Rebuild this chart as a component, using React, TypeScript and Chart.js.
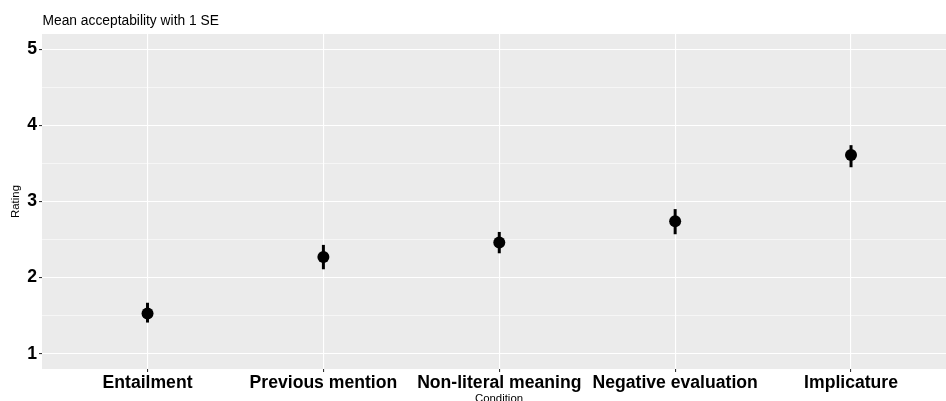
import React, { useEffect, useRef } from "react";
import { Chart, registerables } from "chart.js";

Chart.register(...registerables);

const categories = [
  "Entailment",
  "Previous mention",
  "Non-literal meaning",
  "Negative evaluation",
  "Implicature",
];
const means = [1.53, 2.27, 2.46, 2.74, 3.61];
const lower = [1.41, 2.11, 2.32, 2.57, 3.45];
const upper = [1.67, 2.43, 2.6, 2.9, 3.74];
const yMajor = [1, 2, 3, 4, 5];
const yMinor = [1.5, 2.5, 3.5, 4.5];
const titleText = "Mean acceptability with 1 SE";
const xTitleText = "Condition";
const yTitleText = "Rating";

const FONT = "'Liberation Sans', Arial, Helvetica, sans-serif";

const bgPlugin = {
  id: "panelBg",
  beforeDraw(chart: any) {
    const { ctx, chartArea } = chart;
    ctx.save();
    ctx.fillStyle = "#EBEBEB";
    ctx.fillRect(chartArea.left, chartArea.top, chartArea.right - chartArea.left, chartArea.bottom - chartArea.top);
    ctx.restore();
  },
};

const errorBarPlugin = {
  id: "errorBars",
  beforeDatasetsDraw(chart: any) {
    const { ctx } = chart;
    const x = chart.scales.x;
    const y = chart.scales.y;
    ctx.save();
    ctx.strokeStyle = "#000";
    ctx.lineWidth = 3;
    ctx.lineCap = "butt";
    categories.forEach((_, i) => {
      const px = x.getPixelForValue(i);
      ctx.beginPath();
      ctx.moveTo(px, y.getPixelForValue(lower[i]));
      ctx.lineTo(px, y.getPixelForValue(upper[i]));
      ctx.stroke();
    });
    ctx.restore();
  },
};

const textPlugin = {
  id: "texts",
  afterDraw(chart: any) {
    const { ctx, chartArea } = chart;
    ctx.save();
    ctx.fillStyle = "#000";
    ctx.textBaseline = "alphabetic";
    ctx.font = `13.8px ${FONT}`;
    ctx.textAlign = "left";
    ctx.fillText(titleText, chartArea.left + 0.5, 25);

    ctx.font = `11.4px ${FONT}`;
    ctx.textAlign = "center";
    ctx.fillText(xTitleText, 499, 401.5);

    ctx.translate(19, (chartArea.top + chartArea.bottom) / 2);
    ctx.rotate(-Math.PI / 2);
    ctx.fillText(yTitleText, 0, 0);
    ctx.restore();
  },
};

export default function App() {
  const ref = useRef<HTMLCanvasElement | null>(null);

  useEffect(() => {
    document.body.style.margin = "0";
    if (!ref.current) return;
    const chart = new Chart(ref.current, {
      type: "scatter",
      data: {
        datasets: [
          {
            data: means.map((m, i) => ({ x: i, y: m })),
            backgroundColor: "#000",
            borderColor: "#000",
            borderWidth: 0,
            pointRadius: 6,
            pointHoverRadius: 6,
          },
        ],
      },
      options: {
        animation: false,
        responsive: false,
        events: [],
        layout: { padding: { top: 34, left: 0, right: 0, bottom: 0 }, autoPadding: false },
        plugins: { legend: { display: false }, tooltip: { enabled: false } },
        scales: {
          x: {
            type: "linear",
            min: -0.6,
            max: 4.54,
            afterBuildTicks: (s: any) => {
              s.ticks = categories.map((_, i) => ({ value: i }));
            },
            afterFit: (s: any) => {
              s.height = 32;
            },
            border: { display: false },
            grid: {
              color: "#FFFFFF",
              lineWidth: 1.1,
              tickColor: "#333333",
              tickWidth: 1.1,
              tickLength: 3,
              drawTicks: true,
            },
            ticks: {
              autoSkip: false,
              maxRotation: 0,
              minRotation: 0,
              padding: 1,
              color: "#000",
              font: { family: FONT, size: 17.6, weight: "bold" },
              callback: (v: any) => categories[Math.round(Number(v))] ?? "",
            },
          },
          y: {
            type: "linear",
            min: 0.8,
            max: 5.2,
            afterBuildTicks: (s: any) => {
              s.ticks = [...yMajor, ...yMinor].sort((a, b) => a - b).map((v) => ({ value: v }));
            },
            afterFit: (s: any) => {
              s.width = 42;
            },
            border: { display: false },
            grid: {
              color: "#FFFFFF",
              lineWidth: (c: any) => (c.tick && yMajor.includes(c.tick.value) ? 1.1 : 0.55),
              tickColor: (c: any) => (c.tick && yMajor.includes(c.tick.value) ? "#333333" : "rgba(0,0,0,0)"),
              tickWidth: 1.1,
              tickLength: 3,
              drawTicks: true,
            },
            ticks: {
              autoSkip: false,
              padding: 2,
              color: "#000",
              font: { family: FONT, size: 17.6, weight: "bold" },
              callback: (v: any) => (yMajor.includes(Number(v)) ? String(v) : ""),
            },
          },
        },
      },
      plugins: [bgPlugin, errorBarPlugin, textPlugin],
    } as any);
    return () => chart.destroy();
  }, []);

  return (
    <div style={{ width: 946, height: 401, position: "relative" }}>
      <canvas ref={ref} width={946} height={401} style={{ display: "block" }} />
    </div>
  );
}
